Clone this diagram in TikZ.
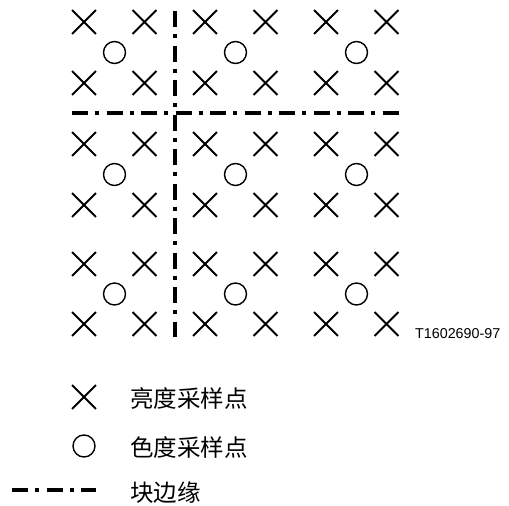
\documentclass[tikz,border=0pt]{standalone}
\usepackage{fontspec}
\setmainfont{Liberation Sans}
\newfontfamily\cjk{Noto Sans CJK SC}
\usetikzlibrary{shapes.misc}
\begin{document}
\begin{tikzpicture}[x=1pt,y=-1pt,
 luma/.style={draw, cross out, line width=1.8pt, minimum size=22pt, inner sep=0pt},
 chroma/.style={draw, circle, line width=1.4pt, minimum size=22pt, inner sep=0pt},
 blockedge/.style={line width=3.5pt, dash pattern=on 16pt off 7pt on 4pt off 7.5pt},
 legtext/.style={anchor=west, font=\cjk\fontsize{23.5}{24}\selectfont, inner sep=0pt}]
\useasboundingbox (0,0) rectangle (509,506);
% luma samples
\foreach \i/\x in {1/84,2/144.5,3/205,4/265.5,5/326,6/386.5}
  \foreach \j/\y in {1/22,2/83,3/144,4/205,5/264,6/324}
    \node[luma] (l\i\j) at (\x,\y) {};
% chroma samples
\foreach \i/\x in {1/114.5,2/235.5,3/356.5}
  \foreach \j/\y in {1/52.5,2/174.5,3/294}
    \node[chroma] (c\i\j) at (\x,\y) {};
% block edges
\coordinate (vt) at (175,11);
\coordinate (vb) at (175,337);
\coordinate (hl) at (72,113);
\coordinate (hr) at (398.5,113);
\draw[blockedge] (vt) -- (vb);
\draw[blockedge] (hl) -- (hr);
% figure label
\node[anchor=west, font=\fontsize{14.3}{15}\selectfont, inner sep=0pt] (fig) at (415,334) {T1602690-97};
% legend
\node[luma] (kl) at (84,397) {};
\node[legtext] (tl) at (130,398) {亮度采样点};
\node[chroma] (kc) at (84,446) {};
\node[legtext] (tc) at (130,448) {色度采样点};
\coordinate (ea) at (12,490);
\coordinate (eb) at (96,490);
\draw[blockedge] (ea) -- (eb);
\node[legtext] (te) at (130,493) {块边缘};
\end{tikzpicture}
\end{document}
